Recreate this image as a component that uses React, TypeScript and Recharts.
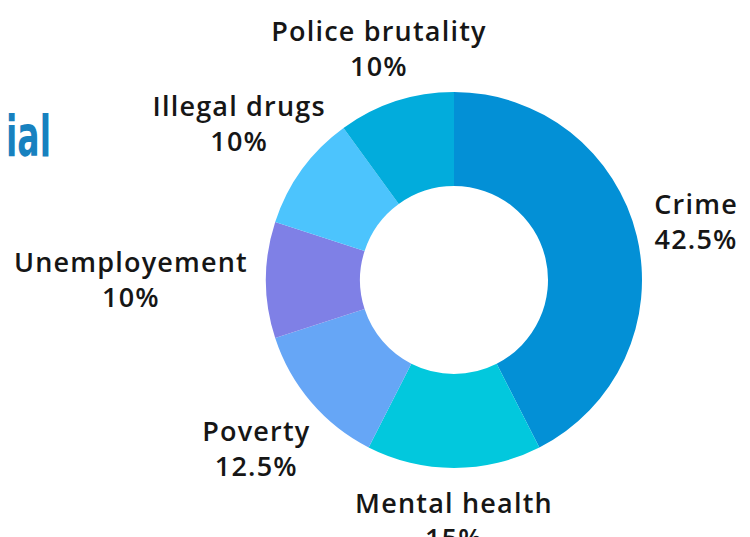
import { Cell, Pie, PieChart } from 'recharts';

const categories = ['Crime', 'Mental health', 'Poverty', 'Unemployement', 'Illegal drugs', 'Police brutality'];
const shares = [42.5, 15, 12.5, 10, 10, 10];
const sliceColors = ['#0390d6', '#02c8dd', '#66a6f6', '#7f80e6', '#4cc4fd', '#02acdc'];

const data = categories.map((name, i) => ({ name, value: shares[i] }));

const LABEL_FONT = "'Open Sans', sans-serif";
const LABEL_SIZE = 27;
const LABEL_WEIGHT = 600;
const LABEL_SPACING = 1.2;
const LINE_HEIGHT = 35;
const LABEL_OFFSET = 18;

let measureCtx: CanvasRenderingContext2D | null = null;
function textWidth(text: string) {
  if (!measureCtx) {
    measureCtx = document.createElement('canvas').getContext('2d');
  }
  if (!measureCtx) return text.length * LABEL_SIZE * 0.62;
  measureCtx.font = `${LABEL_WEIGHT} ${LABEL_SIZE}px ${LABEL_FONT}`;
  return measureCtx.measureText(text).width + text.length * LABEL_SPACING;
}

// label box sits on the slice's mid ray, just clear of the ring
function SliceLabel(props: any) {
  const { cx, cy, midAngle, outerRadius, name, value } = props;
  const rad = (-midAngle * Math.PI) / 180;
  const vx = Math.cos(rad);
  const vy = Math.sin(rad);
  const line2 = `${value}%`;
  const halfW = Math.max(textWidth(name), textWidth(line2)) / 2;
  const halfH = LINE_HEIGHT;
  const ex = Math.abs(vx) > 1e-6 ? halfW / Math.abs(vx) : Infinity;
  const ey = Math.abs(vy) > 1e-6 ? halfH / Math.abs(vy) : Infinity;
  const r = outerRadius + LABEL_OFFSET + Math.min(ex, ey);
  const x = cx + vx * r;
  const y = cy + vy * r;
  const capMid = LABEL_SIZE * 0.36;
  return (
    <text
      x={x}
      y={y}
      textAnchor="middle"
      fill="#161616"
      fontFamily={LABEL_FONT}
      fontSize={LABEL_SIZE}
      fontWeight={LABEL_WEIGHT}
      letterSpacing={LABEL_SPACING}
    >
      <tspan x={x} y={y - LINE_HEIGHT / 2 + capMid}>{name}</tspan>
      <tspan x={x} y={y + LINE_HEIGHT / 2 + capMid}>{line2}</tspan>
    </text>
  );
}

export default function App() {
  return (
    <div style={{ position: 'absolute', left: 0, top: 0, width: 750, height: 537, background: '#fff', overflow: 'hidden' }}>
      <PieChart width={750} height={537} margin={{ top: 0, right: 0, bottom: 0, left: 0 }}>
        {/* tail of a cropped title on the left edge */}
        <text
          x={0}
          y={156}
          transform="translate(6 0) scale(0.58 1)"
          fill="#1781bf"
          fontFamily="'DejaVu Sans', sans-serif"
          fontWeight={700}
          fontSize={57}
        >
          ial
        </text>
        <Pie
          data={data}
          dataKey="value"
          nameKey="name"
          cx={454}
          cy={280}
          innerRadius={94}
          outerRadius={188}
          startAngle={90}
          endAngle={-270}
          stroke="none"
          label={SliceLabel}
          labelLine={false}
          isAnimationActive={false}
        >
          {data.map((d, i) => (
            <Cell key={d.name} fill={sliceColors[i]} />
          ))}
        </Pie>
      </PieChart>
    </div>
  );
}
